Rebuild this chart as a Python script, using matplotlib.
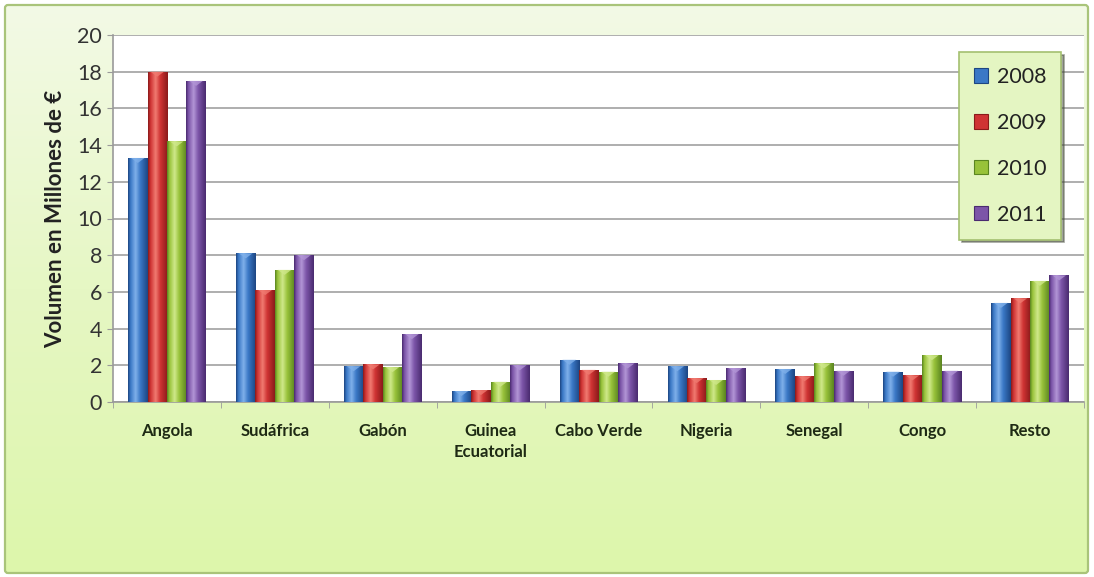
import numpy as np
import matplotlib
matplotlib.use("Agg")
import matplotlib.pyplot as plt
from matplotlib.colors import LinearSegmentedColormap
from matplotlib.patches import Rectangle, FancyBboxPatch, Polygon

plt.rcParams['font.family'] = ['Lato', 'DejaVu Sans']

categories = ["Angola", "Sudáfrica", "Gabón", "Guinea\nEcuatorial", "Cabo Verde",
              "Nigeria", "Senegal", "Congo", "Resto"]
years = ["2008", "2009", "2010", "2011"]
v2008 = [13.3, 8.1, 1.95, 0.6, 2.3, 1.95, 1.8, 1.65, 5.4]
v2009 = [18.0, 6.1, 2.05, 0.65, 1.75, 1.3, 1.4, 1.45, 5.65]
v2010 = [14.2, 7.2, 1.9, 1.1, 1.65, 1.2, 2.1, 2.55, 6.6]
v2011 = [17.5, 8.0, 3.7, 2.0, 2.1, 1.85, 1.7, 1.7, 6.9]
y_ticks = [0, 2, 4, 6, 8, 10, 12, 14, 16, 18, 20]
y_label = "Volumen en Millones de €"

series = [v2008, v2009, v2010, v2011]
# (dark edge, base, highlight) per series
palette = [
    ("#1d4682", "#3a78c6", "#7fb0ea"),
    ("#8a1a1a", "#cf3333", "#f07a70"),
    ("#5a8520", "#98c23a", "#cfe88a"),
    ("#4a2b70", "#7c55a8", "#b295d6"),
]

W, H = 1094, 577
fig = plt.figure(figsize=(W / 100, H / 100), dpi=100)
fig.patch.set_facecolor("white")

# chart-area background: light green gradient inside a thin border
bg = fig.add_axes([0, 0, 1, 1], zorder=-10)
bg.set_xlim(0, W)
bg.set_ylim(H, 0)
bg.axis("off")
grad = np.linspace(0, 1, 256)[:, None]
bg_cmap = LinearSegmentedColormap.from_list("bg", ["#f3fae6", "#e6f7c4", "#ddf6ab"])
im = bg.imshow(grad, extent=[5, 1088, 573, 5], cmap=bg_cmap, aspect="auto", zorder=0)
frame = FancyBboxPatch((5, 5), 1083, 568, boxstyle="round,pad=0,rounding_size=3",
                       facecolor="none", edgecolor="#a9c47a", lw=1.6, zorder=2)
bg.add_patch(frame)
im.set_clip_path(frame)

ax = fig.add_axes([113 / W, 1 - 402 / H, (1084 - 113) / W, (402 - 35) / H])
ax.set_facecolor("white")
n = len(categories)
x = np.arange(n)
bw = 0.18
ax.set_xlim(-0.5, n - 0.5)
ax.set_ylim(0, 20)

ax.set_yticks(y_ticks)
ax.yaxis.grid(True, color="#a8a8a8", lw=1.3)
ax.set_axisbelow(True)
for s in ["top", "right"]:
    ax.spines[s].set_visible(False)
for s in ["left", "bottom"]:
    ax.spines[s].set_color("#9a9a9a")
    ax.spines[s].set_linewidth(1.2)

ax.set_xticks(x)
ax.set_xticklabels(categories, fontsize=12, fontweight="bold", color="#1e2a14",
                   linespacing=1.4, va="top")
ax.tick_params(axis="x", length=0, pad=15)
ax.set_xticks(np.arange(-0.5, n, 1.0), minor=True)
ax.tick_params(axis="x", which="minor", length=4, color="#9a9a9a", direction="out")
ax.tick_params(axis="y", length=4, color="#9a9a9a", labelsize=15.5, labelcolor="#333333", pad=4)
ax.set_ylabel(y_label, fontsize=16, fontweight="bold", color="#222222", labelpad=8)

px_per_unit = (402 - 35) / 20.0
cap_h = 5 / px_per_unit
ramp = np.linspace(0, 1, 64)[None, :]
for i, vals in enumerate(series):
    dark, base, light = palette[i]
    cmap = LinearSegmentedColormap.from_list(
        f"cyl{i}", [(0, dark), (0.12, base), (0.38, light), (0.62, base), (1, dark)])
    offs = (i - 1.5) * bw
    bars = ax.bar(x + offs, vals, width=bw, color=base, edgecolor="none",
                  label=years[i], zorder=3)
    for b in bars:
        x0, w, h = b.get_x(), b.get_width(), b.get_height()
        g = ax.imshow(ramp, extent=[x0, x0 + w, 0, h], cmap=cmap, aspect="auto", zorder=3.5)
        g.set_clip_path(b)
        # light chevron at the top of each bar
        ax.add_patch(Polygon([[x0 + 0.15 * w, h], [x0 + 0.85 * w, h],
                              [x0 + 0.5 * w, h - min(cap_h, h * 0.6)]],
                             closed=True, facecolor=light, edgecolor="none",
                             alpha=0.8, zorder=4))

handles = [Rectangle((0, 0), 1, 1, facecolor=palette[i][1], edgecolor=palette[i][0], lw=0.8)
           for i in range(4)]
leg = ax.legend(handles, years, loc="upper left",
                bbox_to_anchor=((959 - 113) / 971, (402 - 52) / 367),
                fontsize=15.5, frameon=True, fancybox=False, shadow=True,
                handlelength=0.65, handleheight=0.65, handletextpad=0.4,
                labelspacing=1.2, borderpad=0.7, borderaxespad=0)
leg.get_frame().set_facecolor("#e4f5c2")
leg.get_frame().set_edgecolor("#a4c070")
leg.get_frame().set_linewidth(1.2)
for t in leg.get_texts():
    t.set_color("#222222")

fig.savefig("out.png", dpi=100, facecolor=fig.get_facecolor())
